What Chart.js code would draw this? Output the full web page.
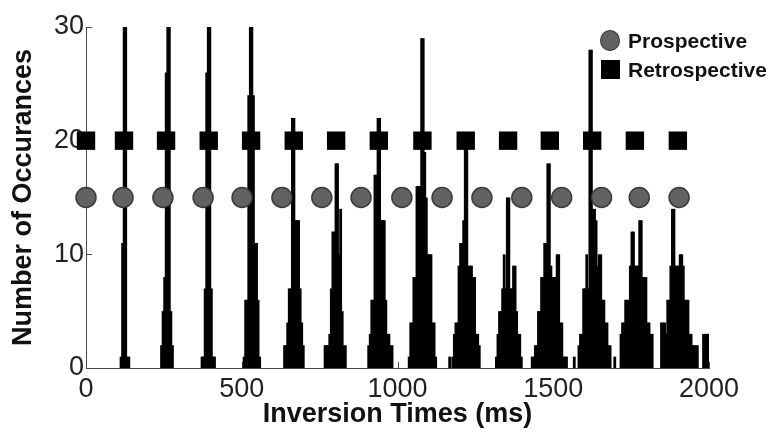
<!DOCTYPE html>
<html>
<head>
<meta charset="utf-8">
<script src="https://cdn.jsdelivr.net/npm/chart.js@4.4.0/dist/chart.umd.min.js"></script>
<style>
  html, body { margin: 0; padding: 0; background: #fff; }
  #wrap { position: relative; width: 774px; height: 443px; }
  #legend { position: absolute; left: 600px; top: 26px; font: bold 21px "Liberation Sans", Arial, sans-serif; color: #111; }
  .row { display: flex; align-items: center; height: 29px; }
  .mark { width: 20px; display: flex; justify-content: center; margin-right: 8px; }
  .circle { width: 21px; height: 21px; border-radius: 50%; background: #626262; border: 1.5px solid #3a3a3a; box-sizing: border-box; }
  .square { width: 19px; height: 19px; background: #000; }
</style>
</head>
<body>
<div id="wrap">
  <canvas id="inversionHist" width="774" height="443"></canvas>
  <div id="legend">
    <div class="row"><span class="mark"><span class="circle"></span></span>Prospective</div>
    <div class="row"><span class="mark"><span class="square"></span></span>Retrospective</div>
  </div>
</div>
<script>
// histogram uses 5 ms bins; each cluster = left edge of first bin (ms) + counts
const binWidth = 5;
const clusterStarts = [110, 240, 370, 505, 635, 765, 905, 1035, 1165, 1175, 1315, 1430, 1565, 1580, 1695, 1715, 1845];
const clusterCounts = [
  [1, 11, 30, 30, 1, 1],
  [2, 5, 8, 26, 30, 30, 5, 2],
  [1, 1, 7, 26, 30, 30, 7, 1, 1],
  [1, 6, 6, 24, 30, 30, 24, 11, 11, 6, 1],
  [2, 2, 4, 7, 7, 22, 22, 13, 13, 13, 7, 4, 2],
  [2, 2, 2, 3, 7, 12, 12, 18, 18, 10, 14, 5, 2, 2],
  [2, 3, 6, 6, 17, 17, 22, 22, 13, 13, 13, 6, 3, 3, 2, 2],
  [1, 4, 4, 8, 8, 16, 16, 16, 29, 29, 19, 15, 10, 10, 10, 4, 4, 1],
  [1],
  [1, 3, 4, 4, 9, 11, 11, 13, 20, 20, 9, 9, 9, 8, 8, 3, 3, 2],
  [1, 3, 5, 5, 7, 10, 7, 15, 15, 7, 7, 9, 9, 5, 3, 3, 1],
  [1, 1, 2, 2, 5, 5, 8, 8, 11, 11, 18, 18, 9, 8, 8, 8, 10, 10, 4, 4, 1, 1, 1],
  [1],
  [2, 3, 3, 7, 7, 10, 7, 28, 28, 14, 14, 13, 9, 10, 10, 6, 6, 4, 4, 2, 2],
  [1],
  [3, 4, 4, 6, 6, 6, 9, 12, 12, 9, 9, 9, 13, 13, 8, 8, 8, 4, 4, 3, 3],
  [4, 4, 4, 3, 6, 6, 9, 14, 14, 9, 9, 9, 10, 10, 9, 6, 6, 6, 3, 3, 2, 2, 2, 2, 0, 0, 0, 3, 3, 3, 3]
];

const prospectiveTimes = [0, 119, 247, 376, 501, 629, 757, 883, 1014, 1143, 1271, 1399, 1527, 1655, 1776, 1904];
const prospectiveLevel = 15;
const retrospectiveTimes = [0, 122, 257, 394, 530, 667, 803, 940, 1080, 1219, 1355, 1489, 1625, 1762, 1900];
const retrospectiveLevel = 20;

const xTicks = [0, 500, 1000, 1500, 2000];
const yTicks = [0, 10, 20, 30];

var histData = [];
clusterStarts.forEach(function(start, c) {
  clusterCounts[c].forEach(function(n, i) {
    histData.push({x: start + i * binWidth + binWidth / 2, y: n});
  });
});

var fontFamily = '"Liberation Sans", Arial, sans-serif';

// matlab style ticks pointing into the plot
var inwardTicks = {
  id: 'inwardTicks',
  beforeDatasetsDraw: function(chart) {
    var ctx = chart.ctx, area = chart.chartArea;
    ctx.save();
    ctx.strokeStyle = '#4a4a4a';
    ctx.lineWidth = 1;
    ctx.beginPath();
    xTicks.forEach(function(v) {
      var px = Math.round(chart.scales.x.getPixelForValue(v)) + 0.5;
      ctx.moveTo(px, area.bottom);
      ctx.lineTo(px, area.bottom - 6);
    });
    yTicks.forEach(function(v) {
      var py = Math.round(chart.scales.y.getPixelForValue(v)) + 0.5;
      ctx.moveTo(area.left, py);
      ctx.lineTo(area.left + 6, py);
    });
    ctx.stroke();
    ctx.restore();
  }
};

new Chart(document.getElementById('inversionHist'), {
  type: 'bar',
  data: {
    datasets: [
      {
        type: 'scatter',
        label: 'Retrospective',
        data: retrospectiveTimes.map(function(t) { return {x: t, y: retrospectiveLevel}; }),
        pointStyle: 'rect',
        pointRadius: 13,
        backgroundColor: '#000',
        borderColor: '#000',
        borderWidth: 0,
        clip: false,
        order: 1
      },
      {
        type: 'scatter',
        label: 'Prospective',
        data: prospectiveTimes.map(function(t) { return {x: t, y: prospectiveLevel}; }),
        pointStyle: 'circle',
        pointRadius: 10,
        backgroundColor: '#626262',
        borderColor: '#3a3a3a',
        borderWidth: 1.5,
        clip: false,
        order: 2
      },
      {
        label: 'Counts',
        data: histData,
        backgroundColor: '#000',
        borderWidth: 0,
        categoryPercentage: 1,
        barPercentage: 1.8, // overlap neighbours so antialiasing leaves no gaps
        order: 3
      }
    ]
  },
  options: {
    responsive: false,
    animation: false,
    layout: { padding: { top: 27, right: 65, left: 0, bottom: 0 } },
    plugins: {
      legend: { display: false },
      tooltip: { enabled: false }
    },
    scales: {
      x: {
        type: 'linear',
        min: 0,
        max: 2000,
        offset: false,
        afterBuildTicks: function(scale) { scale.ticks = xTicks.map(function(v) { return {value: v}; }); },
        afterFit: function(scale) { scale.height = 75; },
        grid: { display: false, drawTicks: false, offset: false },
        border: { display: true, color: '#4a4a4a', width: 1 },
        ticks: {
          autoSkip: false, maxRotation: 0, padding: 5, color: '#222',
          font: { family: fontFamily, size: 27 },
          callback: function(v) { return String(v); }
        },
        title: {
          display: true,
          text: 'Inversion Times (ms)',
          color: '#111',
          font: { family: fontFamily, size: 27, weight: 'bold' },
          padding: { top: 0, bottom: 12 }
        }
      },
      y: {
        min: 0,
        max: 30,
        afterBuildTicks: function(scale) { scale.ticks = yTicks.map(function(v) { return {value: v}; }); },
        afterFit: function(scale) { scale.width = 86; },
        grid: { display: false, drawTicks: false },
        border: { display: true, color: '#4a4a4a', width: 1 },
        ticks: { padding: 2, color: '#222', font: { family: fontFamily, size: 27 } },
        title: {
          display: true,
          text: 'Number of Occurances',
          color: '#111',
          font: { family: fontFamily, size: 27, weight: 'bold' },
          padding: { top: 7, bottom: 0 }
        }
      }
    }
  },
  plugins: [inwardTicks]
});
</script>
</body>
</html>
